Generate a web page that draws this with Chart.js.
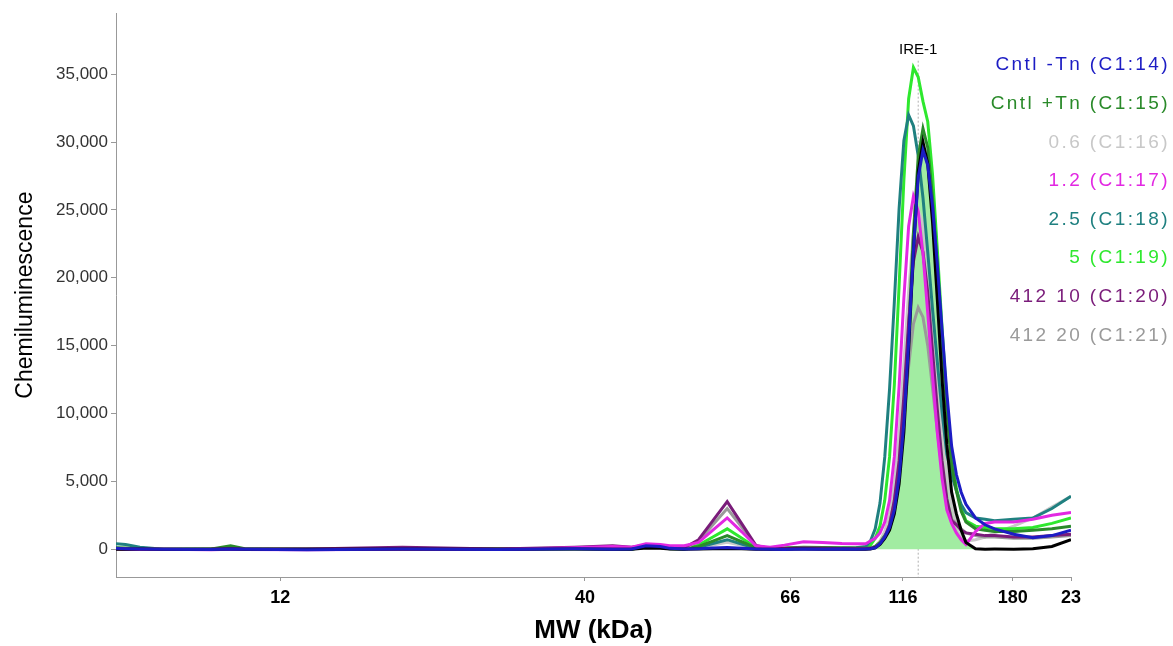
<!DOCTYPE html>
<html>
<head>
<meta charset="utf-8">
<title>IRE-1 electropherogram</title>
<script src="https://cdn.jsdelivr.net/npm/chart.js@4.4.1/dist/chart.umd.min.js"></script>
<style>
  html, body { margin: 0; padding: 0; background: #fff; }
  #wrap { width: 1173px; height: 646px; }
</style>
</head>
<body>
<div id="wrap"><canvas id="mwChart" width="1173" height="646"></canvas></div>
<script>
// migration position along the capillary (0 = left end of the trace, 100 = right end)
const migration = [0, 1, 2.5, 5, 10, 12, 13.5, 20, 30, 40, 48, 52, 54,
    55.5, 57, 58,
    59.5, 61, 62.5, 64, 65.5, 67, 68.5,
    70, 72, 74, 76, 77.5, 78.5, 79, 79.5, 80, 80.5, 81, 81.5, 82, 82.5, 83, 83.5, 84, 84.5,
    85, 85.5, 86, 86.5, 87, 87.5, 88, 88.5, 89, 90, 91, 92, 94, 96, 98, 100];

// MW ladder: where each kDa label sits on the migration axis
const mwTickPositions = [17.2, 49.1, 70.6, 82.4, 93.9, 100];
const mwTickLabels = ['12', '40', '66', '116', '180', '23'];
const yTickValues = [0, 5000, 10000, 15000, 20000, 25000, 30000, 35000];

const peakName = 'IRE-1';
const peakPosition = 84.0;
const peakMarkerTop = 36000;

const cntlMinusTn = [60, 40, 20, 0, -30, 20, 0, -40, 10, -20, 30, 0, 20,
    250, 200, 60,
    20, 40, 80, 120, 70, 20, 0,
    -20, 10, -10, 20, 0, 10, 30, 100, 400, 900, 1600, 2900, 5300, 9300, 15300, 22000, 27400, 29400,
    28300, 25300, 21000, 16200, 11500, 7600, 5500, 4200, 3300, 2300, 1800, 1500, 1100, 850, 1000, 1400];
const cntlPlusTn = [100, 80, 30, 0, 20, 250, 40, 0, 30, 10, 60, 20, 30,
    150, 120, 60,
    40, 200, 600, 1000, 550, 100, 40,
    80, 150, 120, 100, 80, 60, 80, 200, 500, 1000, 1500, 2900, 5500, 9800, 16100, 23300, 28900, 31000,
    29600, 25900, 20800, 15200, 10200, 6200, 4300, 2800, 2000, 1500, 1400, 1300, 1300, 1400, 1500, 1700];
const dose06 = [50, 30, 0, 20, 0, 30, 0, 20, 0, 40, 20, 0, 10,
    150, 100, 30,
    20, 100, 300, 500, 280, 50, 20,
    30, 50, 40, 50, 60, 60, 90, 200, 600, 1300, 2600, 4800, 8500, 13700, 19000, 23400, 25000, 24000,
    21200, 17200, 12900, 8900, 5600, 3300, 1900, 1000, 600, 700, 900, 1200, 1700, 2300, 3100, 3900];
const dose12 = [30, 0, -20, 0, -40, 0, -20, -50, 0, -30, 100, 200, 150,
    400, 350, 250,
    250, 500, 1400, 2300, 1300, 250, 150,
    300, 550, 500, 420, 400, 400, 600, 800, 1200, 2000, 3600, 6800, 12000, 18500, 23800, 26000, 24900, 21800,
    17400, 12800, 8600, 5200, 2900, 1900, 1200, 700, 350, 1300, 1900, 2000, 2000, 2200, 2500, 2700];
const dose25 = [400, 350, 150, 0, 20, 60, 20, 0, 20, 40, 30, 10, 20,
    150, 120, 40,
    20, 140, 420, 700, 380, 60, 30,
    40, 60, 50, 60, 100, 200, 600, 1500, 3400, 6800, 11800, 18200, 25100, 30100, 32000, 31200, 29000, 25900,
    21900, 17700, 13800, 10100, 7000, 5500, 4300, 3300, 2700, 2300, 2200, 2100, 2200, 2300, 3000, 3900];
const dose5 = [60, 40, 10, 0, 20, 40, 10, 0, 20, 10, 40, 30, 20,
    180, 150, 50,
    30, 300, 900, 1500, 820, 120, 40,
    60, 100, 80, 60, 50, 50, 300, 800, 1700, 3600, 6800, 12100, 19400, 27200, 33200, 35500, 34800, 33000,
    31500, 27600, 22100, 16300, 10900, 6600, 4500, 3000, 2100, 1700, 1600, 1500, 1500, 1600, 1900, 2300];
const cmpd412at10 = [40, 20, 0, -20, 0, 30, 0, 20, 150, 20, 150, 250, 150,
    300, 280, 150,
    100, 700, 2100, 3500, 1900, 280, 60,
    50, 80, 60, 50, 40, 40, 60, 150, 400, 900, 1800, 3600, 6500, 11300, 16700, 21200, 23000, 21900,
    18900, 14600, 10300, 6500, 3700, 2100, 1800, 1400, 1200, 1100, 1000, 1000, 900, 900, 1000, 1100];
const cmpd412at20 = [30, 10, 0, 20, 0, 20, 0, 10, 30, 0, 60, 100, 80,
    220, 180, 80,
    60, 600, 1800, 3000, 1650, 240, 40,
    40, 60, 50, 40, 40, 50, 60, 150, 400, 900, 1800, 3500, 6100, 9700, 13500, 16600, 17800, 17100,
    15000, 11900, 8700, 5900, 3600, 2200, 1900, 1500, 1200, 1000, 900, 900, 800, 800, 900, 1000];
// unlabelled trace that carries the shaded IRE-1 peak area
const selectedTrace = [0, 0, 10, 0, 0, 10, 0, 0, 10, 0, 10, 0, 0,
    80, 60, 20,
    0, 10, 30, 50, 30, 0, 0,
    0, 10, 0, 0, 0, 0, 10, 100, 350, 800, 1400, 2600, 4800, 8600, 14700, 21900, 27800, 30000,
    28400, 24100, 18400, 12500, 7700, 4200, 2600, 1400, 500, 30, 0, 10, 0, 30, 200, 700];
const peakAreaRange = [79, 90];

const seriesNames = ['Cntl -Tn (C1:14)', 'Cntl +Tn (C1:15)', '0.6 (C1:16)', '1.2 (C1:17)',
    '2.5 (C1:18)', '5 (C1:19)', '412 10 (C1:20)', '412 20 (C1:21)'];
const seriesValues = [cntlMinusTn, cntlPlusTn, dose06, dose12, dose25, dose5, cmpd412at10, cmpd412at20];
const seriesColors = ['#1c1cc4', '#2a8a2a', '#c8c8c8', '#e228e2', '#1f8080', '#2ee82e', '#7a1c7a', '#9a9a9a'];
// lower number is painted on top
const seriesLayer = [0, 5, 8, 2, 6, 7, 3, 4];

const FONT = "'Liberation Sans', Arial, sans-serif";

function toPoints(values) {
    return migration.map((x, i) => ({ x: x, y: values[i] }));
}

function lineDataset(label, values, color, order) {
    return {
        label: label,
        data: toPoints(values),
        borderColor: color,
        backgroundColor: color,
        borderWidth: 3,
        pointRadius: 0,
        tension: 0,
        fill: false,
        order: order
    };
}

const overlayPlugin = {
    id: 'overlay',
    beforeDatasetsDraw(chart) {
        const { ctx, chartArea, scales } = chart;
        const x = scales.x.getPixelForValue(peakPosition);
        ctx.save();
        ctx.strokeStyle = '#b0b0b0';
        ctx.lineWidth = 1;
        ctx.setLineDash([2, 2]);
        ctx.beginPath();
        ctx.moveTo(x, scales.y.getPixelForValue(peakMarkerTop));
        ctx.lineTo(x, chartArea.bottom);
        ctx.stroke();
        ctx.restore();
    },
    afterDraw(chart) {
        const { ctx, chartArea, scales } = chart;
        ctx.save();

        // peak name above the marker line
        ctx.font = '15px ' + FONT;
        ctx.fillStyle = '#000';
        ctx.textAlign = 'center';
        ctx.textBaseline = 'middle';
        ctx.fillText(peakName, scales.x.getPixelForValue(peakPosition), scales.y.getPixelForValue(peakMarkerTop) - 11);

        // legend: coloured sample names, right aligned, no swatches
        ctx.font = '19px ' + FONT;
        ctx.textAlign = 'right';
        if ('letterSpacing' in ctx) ctx.letterSpacing = '2.4px';
        const right = chart.width - 3;
        seriesNames.forEach((name, i) => {
            ctx.fillStyle = seriesColors[i];
            ctx.fillText(name, right, chartArea.top + 52 + i * 38.6);
        });
        ctx.restore();
    }
};

const datasets = seriesNames.map((name, i) => lineDataset(name, seriesValues[i], seriesColors[i], seriesLayer[i]));
datasets.push(lineDataset('selected', selectedTrace, '#000000', 1));
datasets.push({
    label: 'peak area',
    data: toPoints(selectedTrace.map((v, i) =>
        migration[i] >= peakAreaRange[0] && migration[i] <= peakAreaRange[1] ? v : 0)),
    borderWidth: 0,
    borderColor: 'rgba(0,0,0,0)',
    backgroundColor: '#a2eca2',
    pointRadius: 0,
    tension: 0,
    fill: 'origin',
    order: 9
});

const ctx = document.getElementById('mwChart').getContext('2d');
new Chart(ctx, {
    type: 'line',
    data: { datasets: datasets },
    options: {
        responsive: false,
        animation: false,
        devicePixelRatio: 1,
        layout: { padding: { top: 13, right: 102, bottom: 0, left: 0 } },
        plugins: {
            legend: { display: false },
            tooltip: { enabled: false }
        },
        scales: {
            x: {
                type: 'linear',
                min: 0,
                max: 100,
                afterBuildTicks: scale => {
                    scale.ticks = mwTickPositions.map(v => ({ value: v }));
                },
                afterFit: scale => { scale.height = 69; },
                ticks: {
                    autoSkip: false,
                    maxRotation: 0,
                    padding: 6,
                    color: '#000',
                    font: { family: FONT, size: 18, weight: 'bold' },
                    callback: (value, index) => mwTickLabels[index]
                },
                grid: { drawOnChartArea: false, tickLength: 4, color: '#999' },
                border: { color: '#999' },
                title: {
                    display: true,
                    text: 'MW (kDa)',
                    color: '#000',
                    font: { family: FONT, size: 26, weight: 'bold' },
                    padding: { top: 0, bottom: 0 }
                }
            },
            y: {
                type: 'linear',
                min: -2050,
                max: 39500,
                afterBuildTicks: scale => {
                    scale.ticks = yTickValues.map(v => ({ value: v }));
                },
                afterFit: scale => { scale.width = 116; },
                ticks: {
                    padding: 3,
                    color: '#333',
                    font: { family: FONT, size: 17 },
                    callback: value => value.toLocaleString('en-US')
                },
                grid: { drawOnChartArea: false, tickLength: 5, color: '#999' },
                border: { color: '#999' },
                title: {
                    display: true,
                    text: 'Chemiluminescence',
                    color: '#000',
                    font: { family: FONT, size: 23 },
                    padding: { top: 12, bottom: 0 }
                }
            }
        }
    },
    plugins: [overlayPlugin]
});
</script>
</body>
</html>
